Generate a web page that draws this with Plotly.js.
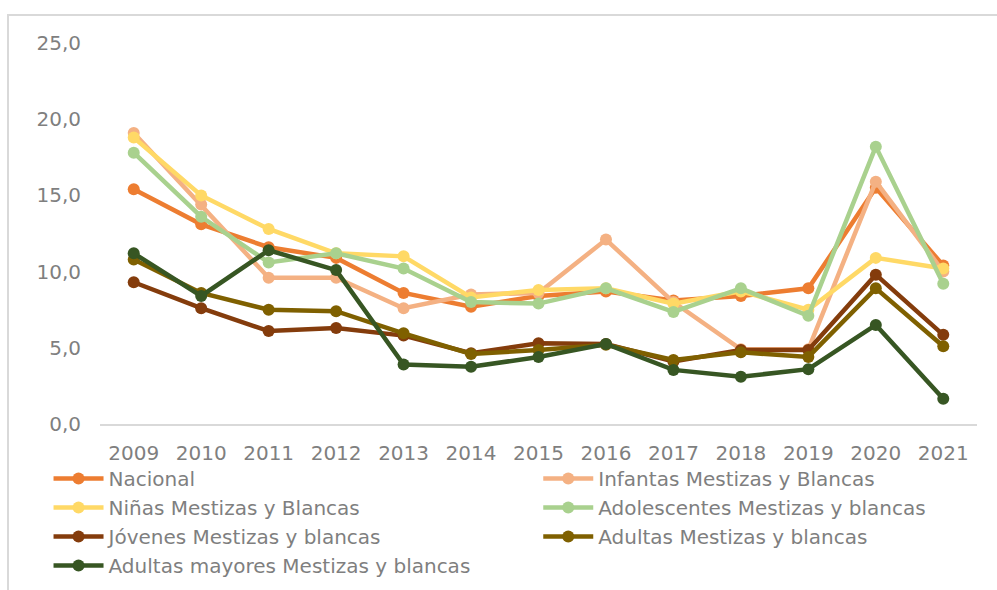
<!DOCTYPE html>
<html>
<head>
<meta charset="utf-8">
<script src="https://cdn.plot.ly/plotly-3.0.1.min.js"></script>
<style>
  html, body { margin: 0; padding: 0; background: #ffffff; overflow: hidden; width: 997px; height: 590px; }
  #frame { position: absolute; left: 7px; top: 14px; width: 1000px; height: 600px;
           border-left: 2px solid #d9d9d9; border-top: 2px solid #d9d9d9; box-sizing: border-box; }
  #chart { position: absolute; left: 0; top: 0; width: 997px; height: 640px; }
</style>
</head>
<body>
<div id="frame"></div>
<div id="chart"></div>
<script>
const years = ['2009','2010','2011','2012','2013','2014','2015','2016','2017','2018','2019','2020','2021'];

const nacional        = [15.4, 13.1, 11.6, 10.9, 8.6, 7.7, 8.4, 8.7, 8.1, 8.4, 8.9, 15.5, 10.4];
const infantas        = [19.1, 14.4, 9.6, 9.6, 7.6, 8.5, 8.6, 12.1, 8.0, 4.9, 4.9, 15.9, 10.0];
const ninas           = [18.8, 15.0, 12.8, 11.2, 11.0, 8.3, 8.8, 8.9, 7.9, 8.7, 7.5, 10.9, 10.2];
const adolescentes    = [17.8, 13.6, 10.6, 11.2, 10.2, 8.0, 7.9, 8.9, 7.35, 8.9, 7.1, 18.2, 9.2];
const jovenes         = [9.3, 7.6, 6.1, 6.3, 5.8, 4.65, 5.3, 5.25, 4.1, 4.85, 4.85, 9.8, 5.85];
const adultas         = [10.8, 8.6, 7.5, 7.4, 5.95, 4.6, 4.85, 5.2, 4.2, 4.7, 4.4, 8.9, 5.1];
const adultasMayores  = [11.2, 8.4, 11.4, 10.1, 3.9, 3.75, 4.4, 5.25, 3.55, 3.1, 3.6, 6.5, 1.65];

const seriesNames = ['Nacional', 'Infantas Mestizas y Blancas', 'Niñas Mestizas y Blancas',
  'Adolescentes Mestizas y blancas', 'Jóvenes Mestizas y blancas', 'Adultas Mestizas y blancas',
  'Adultas mayores Mestizas y blancas'];
const seriesValues = [nacional, infantas, ninas, adolescentes, jovenes, adultas, adultasMayores];
const seriesColors = ['#ED7D31', '#F4B183', '#FFD966', '#A9D18E', '#843C0C', '#7F6000', '#375623'];
// legend column for each series (row-wise fill over two columns)
const seriesLegend = ['legend', 'legend2', 'legend', 'legend2', 'legend', 'legend2', 'legend'];

const traces = seriesNames.map((name, i) => ({
  type: 'scatter',
  mode: 'lines+markers',
  name: name,
  x: years,
  y: seriesValues[i],
  line: { color: seriesColors[i], width: 4.5 },
  marker: { color: seriesColors[i], size: 12 },
  legend: seriesLegend[i],
  legendgroup: 'g' + i,
  cliponaxis: false
}));

// figure is 640 tall (viewport shows top 590); plot area: left 99.5, width 877.5, top 43, height 381
const legendBase = {
  orientation: 'v',
  xref: 'paper', yref: 'paper',
  xanchor: 'left', yanchor: 'top',
  itemwidth: 50,
  tracegroupgap: 0,
  font: { size: 20, color: '#7f7f7f' },
  bgcolor: 'rgba(0,0,0,0)'
};

const layout = {
  width: 997,
  height: 640,
  paper_bgcolor: 'rgba(0,0,0,0)',
  plot_bgcolor: 'rgba(0,0,0,0)',
  margin: { l: 99.5, r: 20, t: 43, b: 216 },
  separators: ',.',
  font: { family: 'DejaVu Sans, sans-serif', color: '#7f7f7f', size: 20 },
  showlegend: true,
  xaxis: {
    type: 'category',
    range: [-0.5, 12.5],
    showgrid: false,
    showline: true,
    linecolor: '#d9d9d9',
    linewidth: 2,
    ticks: '',
    zeroline: false,
    ticklabelstandoff: 10,
    tickfont: { size: 20, color: '#7f7f7f' },
    fixedrange: true
  },
  yaxis: {
    range: [0, 25],
    dtick: 5,
    tickformat: '.1f',
    showgrid: false,
    showline: false,
    zeroline: false,
    ticks: '',
    ticklabelstandoff: 18,
    tickfont: { size: 20, color: '#7f7f7f' },
    fixedrange: true
  },
  legend: Object.assign({}, legendBase, { x: (48 - 99.5) / 877.5, y: (424 - 459) / 381 }),
  legend2: Object.assign({}, legendBase, { x: (538 - 99.5) / 877.5, y: (424 - 459) / 381 })
};

Plotly.newPlot('chart', traces, layout, { displayModeBar: false, staticPlot: true });
</script>
</body>
</html>
